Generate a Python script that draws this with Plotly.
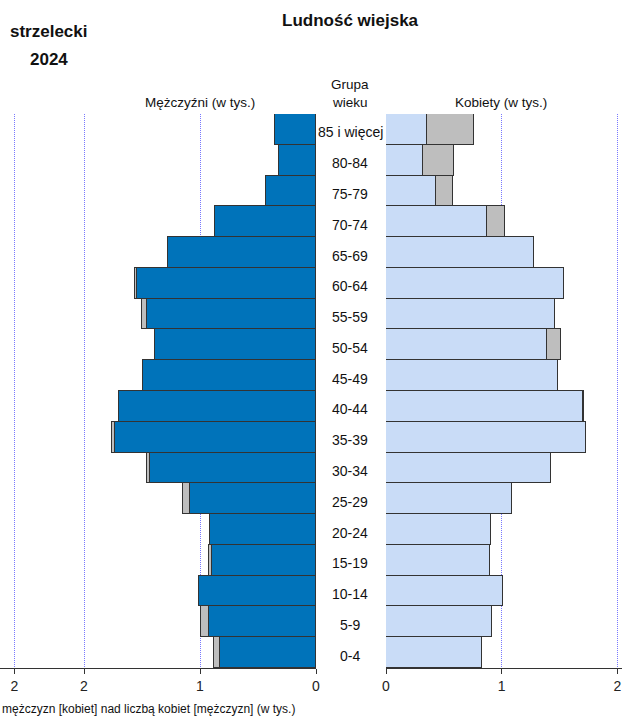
import plotly.graph_objects as go

# age groups from youngest (bottom) to oldest (top)
age_groups = ["0-4", "5-9", "10-14", "15-19", "20-24", "25-29", "30-34", "35-39",
              "40-44", "45-49", "50-54", "55-59", "60-64", "65-69", "70-74",
              "75-79", "80-84", "85 i więcej"]

# thousands of people
men = [0.88, 0.99, 1.01, 0.92, 0.91, 1.15, 1.46, 1.76,
       1.70, 1.49, 1.39, 1.50, 1.56, 1.28, 0.87,
       0.43, 0.32, 0.35]
women = [0.83, 0.92, 1.01, 0.90, 0.91, 1.09, 1.43, 1.73,
         1.71, 1.49, 1.51, 1.46, 1.54, 1.28, 1.03,
         0.58, 0.59, 0.76]

left_ticks = [0, 1, 2, 2.6]
left_ticktext = ["0", "1", "2", "2"]
right_ticks = [0, 1, 2]

W, H = 622, 717
TOP, BOTTOM = 114, 668
FONT = "Liberation Sans, Arial, sans-serif"

BLUE = "#0073ba"
LIGHT = "#c9dcf7"
GREY = "#bebebe"
EDGE = "#333333"


def px(x):
    return x / W


def py(y):
    return (BOTTOM - y) / (BOTTOM - TOP)


base = [min(m, f) for m, f in zip(men, women)]
men_extra = [max(m - f, 0) for m, f in zip(men, women)]
women_extra = [max(f - m, 0) for m, f in zip(men, women)]

fig = go.Figure()

bar_line = dict(color=EDGE, width=1)
fig.add_trace(go.Bar(y=age_groups, x=base, orientation="h", xaxis="x", yaxis="y",
                     marker=dict(color=BLUE, line=bar_line), name="Mężczyźni"))
fig.add_trace(go.Bar(y=age_groups, x=men_extra, orientation="h", xaxis="x", yaxis="y",
                     marker=dict(color=GREY, line=bar_line), name="nadwyżka M"))
fig.add_trace(go.Bar(y=age_groups, x=base, orientation="h", xaxis="x2", yaxis="y",
                     marker=dict(color=LIGHT, line=bar_line), name="Kobiety"))
fig.add_trace(go.Bar(y=age_groups, x=women_extra, orientation="h", xaxis="x2", yaxis="y",
                     marker=dict(color=GREY, line=bar_line), name="nadwyżka K"))

axis_common = dict(
    showgrid=True, griddash="1px,1px", gridcolor="#7878ff", gridwidth=1,
    zeroline=False, showline=True, linecolor=EDGE, linewidth=1,
    ticks="outside", ticklen=5, tickcolor=EDGE,
    tickfont=dict(family=FONT, size=14, color="#222"),
    automargin=False, fixedrange=True,
)

fig.update_layout(
    width=W, height=H,
    margin=dict(l=0, r=0, t=TOP, b=H - BOTTOM, autoexpand=False),
    barmode="stack", bargap=0,
    showlegend=False,
    plot_bgcolor="white", paper_bgcolor="white",
    font=dict(family=FONT, color="#222"),
    xaxis=dict(domain=[0, px(316)], range=[316 / 116, 0],
               tickvals=left_ticks, ticktext=left_ticktext, anchor="y", **axis_common),
    xaxis2=dict(domain=[px(386), 1], range=[0, 236 / 115.7],
                tickvals=right_ticks, anchor="y", **axis_common),
    yaxis=dict(type="category", categoryorder="array", categoryarray=age_groups,
               range=[-0.5, len(age_groups) - 0.5], visible=False,
               automargin=False, fixedrange=True),
)

annotations = [
    dict(text="<b>Ludność wiejska</b>", x=px(350), y=py(20), size=17),
    dict(text="<b>strzelecki</b>", x=px(49), y=py(32), size=17),
    dict(text="<b>2024</b>", x=px(49), y=py(60), size=17),
    dict(text="Mężczyźni (w tys.)", x=px(200), y=py(103), size=13.5),
    dict(text="Kobiety (w tys.)", x=px(501), y=py(103), size=13.5),
    dict(text="Grupa", x=px(350), y=py(85), size=13.5),
    dict(text="wieku", x=px(350), y=py(103), size=13.5),
]
for a in annotations:
    fig.add_annotation(text=a["text"], x=a["x"], y=a["y"], xref="paper", yref="paper",
                       xanchor="center", yanchor="middle", showarrow=False,
                       font=dict(family=FONT, size=a["size"], color="#111"))

# age group labels between the two halves
for g in age_groups:
    fig.add_annotation(text=g, x=px(350), y=g, xref="paper", yref="y", yshift=-3,
                       xanchor="center", yanchor="middle", showarrow=False,
                       font=dict(family=FONT, size=14, color="#111"))

fig.add_annotation(text="mężczyzn [kobiet] nad liczbą kobiet [mężczyzn] (w tys.)",
                   x=0, y=py(709), xref="paper", yref="paper",
                   xanchor="left", yanchor="middle", showarrow=False,
                   font=dict(family=FONT, size=12, color="#111"))

# drop the browser's default page margin so the figure sits at the window corner
fig.write_html("out.html", config={"displayModeBar": False},
               post_script="document.body.style.margin='0px';")
